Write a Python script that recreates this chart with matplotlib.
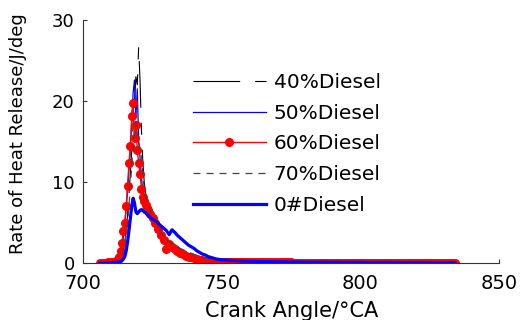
import numpy as np
import matplotlib
matplotlib.use("Agg")
import matplotlib.pyplot as plt

# crank angle grid (deg CA): coarse start, 0.5 deg around the peak, then 1 and 2 deg
crank_core = np.concatenate([np.arange(706, 713, 1.0),
                             np.arange(712.5, 724.5, 0.5),
                             np.arange(725, 761, 1.0)])
crank_tail = np.arange(762, 835, 2.0)
crank = np.concatenate([crank_core, crank_tail])
# the 60% run is sampled every degree to the end
crank_60 = np.concatenate([crank_core, np.arange(761, 835, 1.0)])

labels = ["40%Diesel", "50%Diesel", "60%Diesel", "70%Diesel", "0#Diesel"]

hrr_40 = [0.0, 0.02, 0.03, 0.05, 0.07, 0.09, 0.12,
          0.2, 0.3, 0.5, 0.8, 1.5, 2.5, 4.0, 6.0, 8.5, 11.0,
          14.0, 17.0, 20.0, 23.0, 22.0, 26.7, 22.4, 16.4, 12.5, 10.0,
          8.6, 7.6, 7.0, 6.5,
          5.8, 5.2, 4.6, 4.0, 3.4, 2.9, 2.5, 2.2, 1.9, 1.7,
          1.5, 1.3, 1.15, 1.0, 0.9, 0.8, 0.7, 0.6, 0.52, 0.45,
          0.38, 0.32, 0.28, 0.24, 0.21, 0.19, 0.17, 0.16, 0.15, 0.14,
          0.13, 0.12, 0.12, 0.11, 0.11, 0.1,
          0.1, 0.09, 0.09, 0.09, 0.08, 0.08, 0.08, 0.07, 0.07, 0.07,
          0.07, 0.06, 0.06, 0.06, 0.06, 0.06, 0.05, 0.05, 0.05, 0.05,
          0.05, 0.05, 0.05, 0.04, 0.04, 0.04, 0.04, 0.04, 0.04, 0.04,
          0.04, 0.04, 0.03, 0.03, 0.03, 0.03, 0.03]

hrr_50 = [0.0, 0.02, 0.04, 0.06, 0.08, 0.1, 0.2,
          0.3, 0.5, 1.0, 2.0, 3.2, 4.8, 6.8, 9.0, 11.5, 14.0,
          17.5, 21.0, 22.6, 18.0, 21.5, 15.0, 13.0, 10.5, 9.0, 8.0,
          7.4, 6.9, 6.5, 6.1,
          5.6, 5.0, 4.4, 3.8, 3.3, 2.8, 2.4, 2.1, 1.8, 1.6,
          1.4, 1.25, 1.1, 0.95, 0.85, 0.75, 0.65, 0.55, 0.48, 0.42,
          0.36, 0.3, 0.26, 0.23, 0.2, 0.18, 0.16, 0.15, 0.14, 0.13,
          0.12, 0.12, 0.11, 0.11, 0.1, 0.1,
          0.1, 0.09, 0.09, 0.09, 0.08, 0.08, 0.08, 0.08, 0.07, 0.07,
          0.07, 0.07, 0.06, 0.06, 0.06, 0.06, 0.06, 0.05, 0.05, 0.05,
          0.05, 0.05, 0.05, 0.05, 0.04, 0.04, 0.04, 0.04, 0.04, 0.04,
          0.04, 0.04, 0.04, 0.03, 0.03, 0.03, 0.03]

hrr_60 = [0.0, 0.02, 0.05, 0.08, 0.1, 0.15, 0.25,
          0.4, 0.8, 1.5, 2.5, 4.0, 5.0, 7.0, 9.5, 12.3, 14.4,
          18.1, 19.8, 15.4, 17.0, 14.0, 12.3, 11.0, 9.2, 8.2, 7.6,
          7.2, 6.8, 6.5, 6.1,
          5.5, 4.9, 4.2, 3.5, 2.9, 1.7, 2.4, 2.0, 1.7, 1.5,
          1.3, 1.1, 0.9, 0.8, 0.7, 0.6, 0.5, 0.42, 0.35, 0.3,
          0.25, 0.2, 0.18, 0.16, 0.15, 0.14, 0.13, 0.12, 0.12, 0.11,
          0.1, 0.1, 0.1, 0.1, 0.09, 0.09,
          0.09, 0.09, 0.09, 0.08, 0.08, 0.08, 0.08, 0.08, 0.07, 0.07,
          0.07, 0.07, 0.07, 0.07, 0.07, 0.06, 0.06, 0.06, 0.06, 0.06,
          0.06, 0.06, 0.06, 0.06, 0.05, 0.05, 0.05, 0.05, 0.05, 0.05,
          0.05, 0.05, 0.05, 0.05, 0.05, 0.05, 0.05, 0.05, 0.04, 0.04,
          0.04, 0.04, 0.04, 0.04, 0.04, 0.04, 0.04, 0.04, 0.04, 0.04,
          0.04, 0.04, 0.04, 0.04, 0.04, 0.04, 0.03, 0.03, 0.03, 0.03,
          0.03, 0.03, 0.03, 0.03, 0.03, 0.03, 0.03, 0.03, 0.03, 0.03,
          0.03, 0.03, 0.03, 0.03]

hrr_70 = [0.0, 0.02, 0.04, 0.06, 0.08, 0.1, 0.15,
          0.2, 0.3, 0.6, 1.0, 1.7, 2.5, 3.6, 5.0, 7.0, 9.5,
          12.0, 14.5, 16.5, 17.5, 16.0, 15.0, 14.0, 13.5, 10.8, 9.3,
          8.3, 7.6, 7.0, 6.6,
          6.0, 5.3, 4.6, 3.9, 3.3, 2.9, 2.6, 2.4, 2.2, 2.0,
          1.8, 1.65, 1.5, 1.35, 1.2, 1.05, 0.92, 0.8, 0.7, 0.6,
          0.5, 0.42, 0.36, 0.31, 0.27, 0.24, 0.21, 0.19, 0.17, 0.16,
          0.15, 0.14, 0.13, 0.12, 0.12, 0.11,
          0.11, 0.1, 0.1, 0.09, 0.09, 0.09, 0.08, 0.08, 0.08, 0.07,
          0.07, 0.07, 0.07, 0.06, 0.06, 0.06, 0.06, 0.06, 0.05, 0.05,
          0.05, 0.05, 0.05, 0.05, 0.04, 0.04, 0.04, 0.04, 0.04, 0.04,
          0.04, 0.04, 0.04, 0.03, 0.03, 0.03, 0.03]

hrr_0 = [0.0, 0.0, 0.02, 0.04, 0.06, 0.08, 0.1,
         0.12, 0.15, 0.2, 0.3, 0.5, 0.8, 1.5, 2.6, 4.0, 5.5,
         7.0, 8.0, 7.4, 6.3, 6.1, 6.3, 6.5, 6.6, 6.5, 6.3,
         6.2, 6.0, 5.9, 5.7,
         5.4, 5.2, 4.9, 4.6, 4.3, 4.0, 3.5, 4.1, 3.8, 3.4,
         3.1, 2.8, 2.5, 2.2, 2.0, 1.8, 1.5, 1.3, 1.1, 1.0,
         0.8, 0.7, 0.6, 0.5, 0.45, 0.4, 0.38, 0.36, 0.35, 0.32,
         0.3, 0.28, 0.26, 0.25, 0.24, 0.22,
         0.2, 0.19, 0.18, 0.17, 0.16, 0.15, 0.14, 0.13, 0.12, 0.12,
         0.11, 0.11, 0.1, 0.1, 0.1, 0.1, 0.09, 0.09, 0.09, 0.09,
         0.08, 0.08, 0.08, 0.08, 0.08, 0.07, 0.07, 0.07, 0.07, 0.07,
         0.07, 0.06, 0.06, 0.06, 0.06, 0.06, 0.06]

fig = plt.figure(figsize=(5.2, 3.2), dpi=100)
ax = fig.add_axes([0.16, 0.178, 0.8, 0.7595])

ax.plot(crank, hrr_40, color="black", lw=0.8, dashes=(42, 13.5, 10.8, 13.5), label=labels[0])
ax.plot(crank, hrr_50, color="#0000ee", lw=0.9, label=labels[1])
ax.plot(crank_60, hrr_60, color="red", lw=1.0, marker="o", markersize=5.5,
        markeredgecolor="red", markerfacecolor="red", label=labels[2])
ax.plot(crank, hrr_70, color="#444444", lw=0.9, dashes=(5.6, 4.8), label=labels[3])
ax.plot(crank, hrr_0, color="#0000ff", lw=2.3, label=labels[4])

ax.set_xlim(700, 850)
ax.set_ylim(0, 30)
ax.set_xticks([700, 750, 800, 850])
ax.set_yticks([0, 10, 20, 30])
for side in ["top", "right"]:
    ax.spines[side].set_visible(False)
for side in ["left", "bottom"]:
    ax.spines[side].set_color("#333333")
    ax.spines[side].set_linewidth(0.8)
ax.tick_params(direction="in", length=3, width=0.8, color="#333333",
               labelsize=14, pad=6)
ax.tick_params(axis="x", pad=8)
ax.tick_params(axis="y", labelsize=13)

ax.set_xlabel("Crank Angle/°CA", fontsize=15, labelpad=6)
ax.set_ylabel("Rate of Heat Release/J/deg", fontsize=13)
ax.yaxis.set_label_coords(-0.135, 0.533)

ax.legend(loc="upper left", bbox_to_anchor=(193 / 520, 1 - 73 / 320),
          bbox_transform=fig.transFigure, frameon=False, fontsize=14.5,
          handlelength=3.6, handletextpad=0.4, labelspacing=0.58,
          borderpad=0, borderaxespad=0, numpoints=1)

fig.savefig("out.png", dpi=100)
